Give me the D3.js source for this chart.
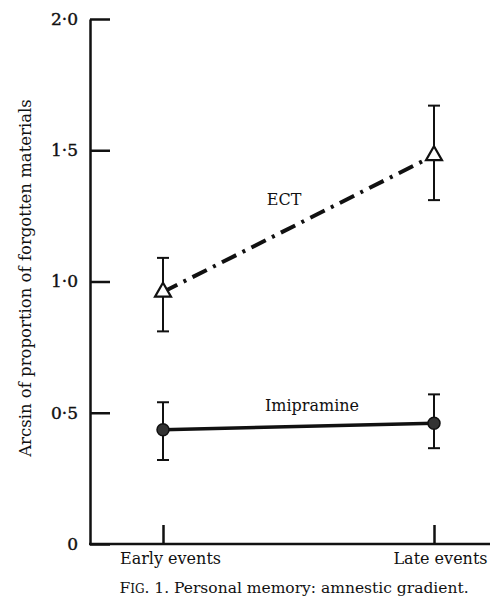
<!DOCTYPE html>
<html>
<head>
<meta charset="utf-8">
<script src="https://cdn.jsdelivr.net/npm/d3@7"></script>
<style>
  body { margin: 0; background: #fff; }
  text { font-family: "DejaVu Serif", "Liberation Serif", serif; fill: #111; }
</style>
</head>
<body>
<script>
var categories = ["Early events", "Late events"];
var yTicks = [0, 0.5, 1.0, 1.5, 2.0];
var yTickLabels = ["0", "0·5", "1·0", "1·5", "2·0"];

var ectMean = [0.96, 1.48];
var ectLow = [0.81, 1.31];
var ectHigh = [1.09, 1.67];

var impMean = [0.435, 0.46];
var impLow = [0.32, 0.365];
var impHigh = [0.54, 0.57];

var width = 490, height = 599;
var axisX = 90, axisY = 544;
var serif = "DejaVu Serif, serif";

var svg = d3.select("body").append("svg")
  .attr("width", width)
  .attr("height", height);

var x = d3.scalePoint().domain(categories).range([163, 434]);
var y = d3.scaleLinear().domain([0, 2]).range([axisY, 19]);

// y axis, ticks pointing inward
var yAxis = svg.append("g")
  .attr("transform", "translate(" + axisX + ",0)")
  .call(d3.axisLeft(y)
    .tickValues(yTicks)
    .tickFormat(function (d, i) { return yTickLabels[i]; })
    .tickSizeInner(-20)
    .tickSizeOuter(0)
    .tickPadding(12));
yAxis.selectAll("path, line").attr("stroke", "#111").attr("stroke-width", 2.5);
yAxis.selectAll("text").style("font-size", "17px").style("font-family", serif)
  .attr("fill", "#111").attr("stroke", "#111").attr("stroke-width", 0.4);

// x axis
var xAxis = svg.append("g")
  .attr("transform", "translate(0," + axisY + ")")
  .call(d3.axisBottom(x)
    .tickSizeInner(-19)
    .tickSizeOuter(0)
    .tickPadding(9));
xAxis.select(".domain").remove();
xAxis.selectAll("line").attr("stroke", "#111").attr("stroke-width", 2.5);
xAxis.selectAll("text").style("font-size", "16px").style("font-family", serif).attr("fill", "#111")
  .attr("dx", function (d, i) { return i === 0 ? 7 : 6; });
svg.append("line")
  .attr("x1", axisX - 1).attr("x2", width)
  .attr("y1", axisY).attr("y2", axisY)
  .attr("stroke", "#111").attr("stroke-width", 2.5);

// error bars
function errorBars(means, lows, highs) {
  var g = svg.append("g").attr("stroke", "#111").attr("stroke-width", 2);
  categories.forEach(function (c, i) {
    var cx = x(c);
    g.append("line").attr("x1", cx).attr("x2", cx).attr("y1", y(lows[i])).attr("y2", y(highs[i]));
    g.append("line").attr("x1", cx - 6).attr("x2", cx + 6).attr("y1", y(lows[i])).attr("y2", y(lows[i]));
    g.append("line").attr("x1", cx - 6).attr("x2", cx + 6).attr("y1", y(highs[i])).attr("y2", y(highs[i]));
  });
}
errorBars(ectMean, ectLow, ectHigh);
errorBars(impMean, impLow, impHigh);

var line = d3.line()
  .x(function (d, i) { return x(categories[i]); })
  .y(function (d) { return y(d); });

// ECT dash-dot line
svg.append("path")
  .datum(ectMean)
  .attr("d", line)
  .attr("fill", "none")
  .attr("stroke", "#111")
  .attr("stroke-width", 4)
  .attr("stroke-dasharray", "16,7,3,7");

// Imipramine solid line
svg.append("path")
  .datum(impMean)
  .attr("d", line)
  .attr("fill", "none")
  .attr("stroke", "#111")
  .attr("stroke-width", 3.5);

// markers
svg.selectAll(".tri")
  .data(ectMean)
  .enter().append("path")
  .attr("class", "tri")
  .attr("transform", function (d, i) { return "translate(" + x(categories[i]) + "," + y(d) + ")"; })
  .attr("d", d3.symbol().type(d3.symbolTriangle).size(110))
  .attr("fill", "#fff")
  .attr("stroke", "#111")
  .attr("stroke-width", 2.2);

svg.selectAll(".dot")
  .data(impMean)
  .enter().append("circle")
  .attr("class", "dot")
  .attr("cx", function (d, i) { return x(categories[i]); })
  .attr("cy", function (d) { return y(d); })
  .attr("r", 6)
  .attr("fill", "#333")
  .attr("stroke", "#111")
  .attr("stroke-width", 1.5);

// series labels
svg.append("text")
  .attr("x", 284).attr("y", 205)
  .attr("text-anchor", "middle")
  .style("font-size", "16px")
  .text("ECT");

svg.append("text")
  .attr("x", 312).attr("y", 411)
  .attr("text-anchor", "middle")
  .style("font-size", "16px")
  .text("Imipramine");

// y axis title
svg.append("text")
  .attr("transform", "translate(31,278) rotate(-90)")
  .attr("text-anchor", "middle")
  .style("font-size", "16.5px")
  .text("Arcsin of proportion of forgotten materials");

// caption
var cap = svg.append("text")
  .attr("x", 294).attr("y", 593)
  .attr("text-anchor", "middle")
  .style("font-size", "15.5px");
cap.append("tspan").text("F");
cap.append("tspan").style("font-size", "12px").text("IG");
cap.append("tspan").text(". 1. Personal memory: amnestic gradient.");
</script>
</body>
</html>
